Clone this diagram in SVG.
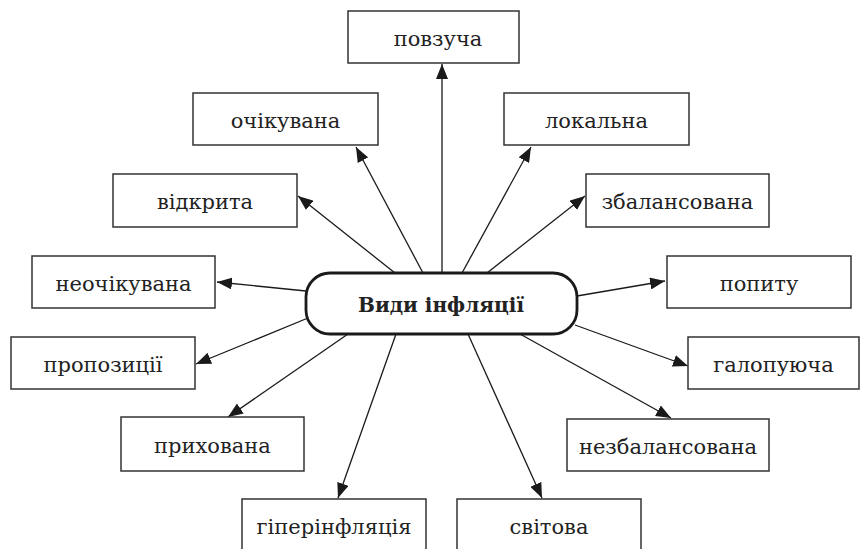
<svg xmlns="http://www.w3.org/2000/svg" width="862" height="549" viewBox="0 0 862 549">
<defs>
<marker id="ah" markerUnits="userSpaceOnUse" markerWidth="16" markerHeight="12" refX="15" refY="6" orient="auto">
<path d="M0,0 L15,6 L0,12 z" fill="#1a1a1a"/>
</marker>
<style>
.box{fill:#fff;stroke:#333;stroke-width:1.5}
.lbl{font-family:"DejaVu Serif","Liberation Serif",serif;font-size:21px;fill:#222;text-anchor:middle}
.ctr{fill:#fff;stroke:#1a1a1a;stroke-width:2.8}
.ctxt{font-family:"DejaVu Serif","Liberation Serif",serif;font-size:20px;font-weight:bold;fill:#222;text-anchor:middle}
.con line{stroke:#1a1a1a;stroke-width:1.3;marker-end:url(#ah)}
</style>
</defs>
<rect width="862" height="549" fill="#fff"/>
<g id="connectors" class="con">
<line x1="442" y1="273" x2="442" y2="64"/>
<line x1="423" y1="273" x2="356" y2="147"/>
<line x1="462" y1="273" x2="531" y2="147"/>
<line x1="395" y1="273" x2="298" y2="196"/>
<line x1="487" y1="273" x2="585" y2="196"/>
<line x1="306" y1="291" x2="217" y2="282"/>
<line x1="577" y1="296" x2="665" y2="281"/>
<line x1="308" y1="318" x2="196" y2="364"/>
<line x1="575" y1="325" x2="688" y2="366"/>
<line x1="348" y1="334" x2="228" y2="417"/>
<line x1="520" y1="334" x2="671" y2="418"/>
<line x1="396" y1="334" x2="338" y2="498"/>
<line x1="468" y1="334" x2="542" y2="498"/>
</g>
<g id="center">
<rect class="ctr" x="306" y="273" width="271" height="61" rx="24"/>
<text class="ctxt" x="441" y="312">Види інфляції</text>
</g>
<g id="n-povzucha"><rect class="box" x="348" y="11" width="171" height="52"/><text class="lbl" x="438" y="46">повзуча</text></g>
<g id="n-ochikuvana"><rect class="box" x="193" y="93" width="185" height="52"/><text class="lbl" x="285.5" y="128">очікувана</text></g>
<g id="n-lokalna"><rect class="box" x="504" y="93" width="185" height="52"/><text class="lbl" x="596.5" y="128">локальна</text></g>
<g id="n-vidkryta"><rect class="box" x="113" y="174" width="184" height="53"/><text class="lbl" x="205" y="209">відкрита</text></g>
<g id="n-zbalansovana"><rect class="box" x="586" y="174" width="183" height="53"/><text class="lbl" x="677.5" y="209">збалансована</text></g>
<g id="n-neochikuvana"><rect class="box" x="32" y="256" width="183" height="52"/><text class="lbl" x="123.5" y="291">неочікувана</text></g>
<g id="n-popytu"><rect class="box" x="667" y="256" width="184" height="52"/><text class="lbl" x="759" y="291">попиту</text></g>
<g id="n-propozytsii"><rect class="box" x="11" y="337" width="184" height="52"/><text class="lbl" x="103" y="372">пропозиції</text></g>
<g id="n-halopuiucha"><rect class="box" x="688" y="337" width="171" height="52"/><text class="lbl" x="773.5" y="372">галопуюча</text></g>
<g id="n-prykhovana"><rect class="box" x="121" y="417" width="183" height="54"/><text class="lbl" x="212.5" y="453">прихована</text></g>
<g id="n-nezbalansovana"><rect class="box" x="567" y="419" width="202" height="52"/><text class="lbl" x="668" y="454">незбалансована</text></g>
<g id="n-hiperinfliatsiia"><rect class="box" x="242" y="499" width="184" height="60"/><text class="lbl" x="334" y="534">гіперінфляція</text></g>
<g id="n-svitova"><rect class="box" x="457" y="499" width="184" height="60"/><text class="lbl" x="549" y="534">світова</text></g>
</svg>
